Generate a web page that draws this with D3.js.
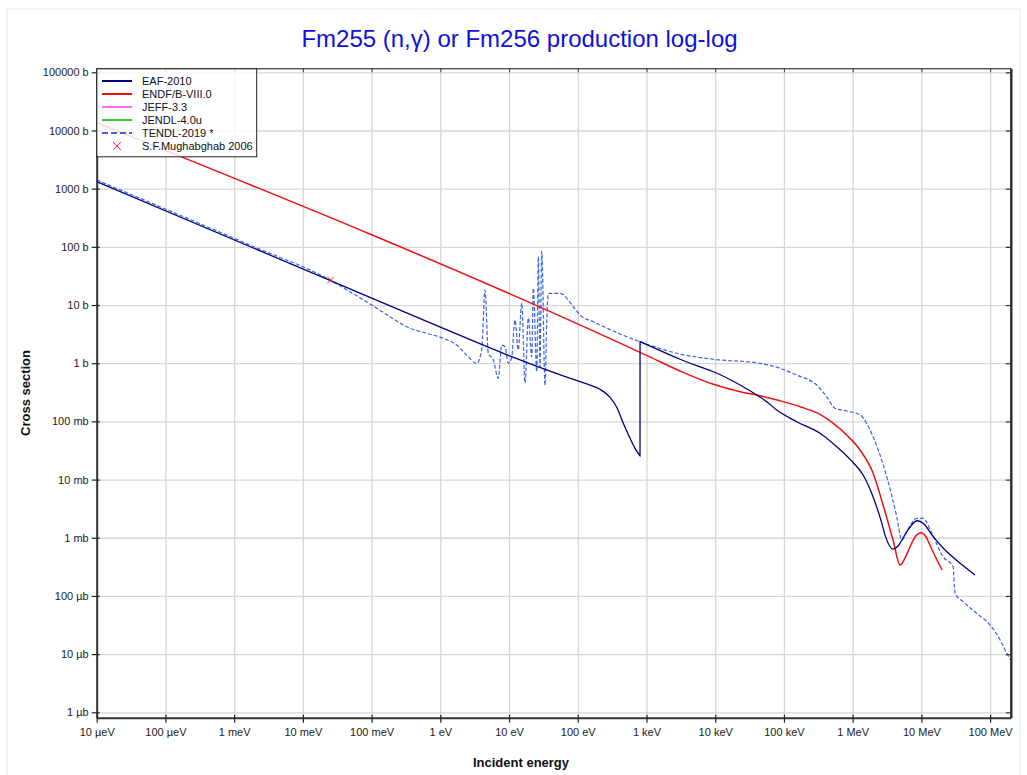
<!DOCTYPE html>
<html lang="en">
<head>
  <meta charset="UTF-8" />
  <title>Fm255 (n,γ) or Fm256 production log-log</title>
  <script src="https://d3js.org/d3.v7.min.js"></script>
  <style>
    body {
      margin: 0;
      background: white;
      font-family: Arial, "Liberation Sans", sans-serif;
    }
    .grid line { stroke: #d6d6d6; stroke-width: 1.3; }
    .grid path { display: none; }
    .tick text { font-size: 11px; fill: #222; }
  </style>
</head>
<body>
  <svg width="1027" height="775"></svg>
  <script>
    // Tick values and labels
    const xTicks = [1e-5, 1e-4, 1e-3, 1e-2, 1e-1, 1, 10, 100, 1e3, 1e4, 1e5, 1e6, 1e7, 1e8];
    const xTickLabels = ["10 µeV", "100 µeV", "1 meV", "10 meV", "100 meV", "1 eV", "10 eV",
                         "100 eV", "1 keV", "10 keV", "100 keV", "1 MeV", "10 MeV", "100 MeV"];
    const yTicks = [1e5, 1e4, 1e3, 100, 10, 1, 0.1, 0.01, 1e-3, 1e-4, 1e-5, 1e-6];
    const yTickLabels = ["100000 b", "10000 b", "1000 b", "100 b", "10 b", "1 b",
                         "100 mb", "10 mb", "1 mb", "100 µb", "10 µb", "1 µb"];

    // Series: [energy (eV), cross section (b)]
    const eaf2010 = [
      [1e-5, 1318], [0.0253, 26.2], [1, 4.17], [10, 1.35], [108, 0.481], [151, 0.422],
      [211, 0.356], [295, 0.259], [369, 0.175], [460, 0.0927], [576, 0.0512], [681, 0.0344],
      [790, 0.0262], [805, 0.0254], [806, 2.34], [880, 2.24], [3076, 1.17], [5875, 0.871],
      [9400, 0.714], [23000, 0.422],
      [42400, 0.273], [56200, 0.218], [78500, 0.157], [153000, 0.0988], [335000, 0.0624],
      [586000, 0.0367], [916000, 0.0223], [1.42e6, 0.01197], [1.98e6, 0.00507],
      [2.65e6, 0.00179], [2.96e6, 0.00111], [3.87e6, 6.4e-4], [4.58e6, 7.21e-4],
      [5.41e6, 9.9e-4], [6.84e6, 1.53e-3], [8.65e6, 1.96e-3], [10.9e6, 1.72e-3],
      [14.3e6, 1.11e-3], [20.7e6, 6.67e-4], [30.9e6, 4.31e-4], [60.4e6, 2.29e-4]
    ];
    const endfb80 = [
      [1e-5, 13660], [1000, 1.366], [3076, 0.735], [9400, 0.434], [23000, 0.324],
      [44900, 0.276], [87700, 0.226], [171000, 0.179], [335000, 0.132], [524000, 0.0927],
      [820000, 0.0583], [1.28e6, 0.0322], [1.98e6, 0.01297], [2.77e6, 3.66e-3],
      [3.87e6, 9.14e-4], [4.9e6, 3.4e-4], [5.78e6, 4.49e-4], [6.84e6, 7.02e-4],
      [8.09e6, 1.03e-3], [9.89e6, 1.22e-3], [11.7e6, 1.03e-3], [14.3e6, 6.15e-4], [20e6, 2.79e-4]
    ];
    const jeff33 = [];
    const jendl40u = [];
    const tendl2019 = [
      [1e-5, 1410], [1.7e-3, 107], [0.0248, 26.9], [0.0485, 16.9], [0.1005, 10.0],
      [0.185, 6.30], [0.324, 4.24], [0.634, 3.26], [1.106, 2.68], [1.73, 2.05], [2.42, 1.38],
      [3.39, 0.995], [4.00, 1.69], [4.47, 18.1], [4.99, 1.48], [5.90, 1.135], [6.98, 0.55],
      [7.82, 2.05], [8.75, 1.92], [9.77, 1.0], [10.9, 1.23], [12.2, 5.52], [13.6, 1.69],
      [15.3, 10.8], [17.1, 0.457], [19.1, 5.98], [21.4, 1.29], [22.6, 19.6], [25.3, 0.714],
      [26.7, 67.7], [28.2, 0.871], [29.9, 82.5], [33.4, 0.422], [35.3, 4.91], [37.3, 15.9],
      [55.2, 15.9], [86.1, 9.35], [108, 6.74], [168, 5.17], [805, 2.34], [3076, 1.44],
      [9400, 1.17], [44900, 0.996], [87700, 0.817], [153000, 0.627], [300000, 0.422],
      [420000, 0.265], [554000, 0.168], [820000, 0.151], [1.28e6, 0.129], [1.98e6, 0.0546],
      [3.13e6, 0.0112], [4.38e6, 2.30e-3], [5.18e6, 9.14e-4], [6.12e6, 1.27e-3],
      [8.55e6, 2.16e-3], [10.6e6, 2.16e-3], [14.2e6, 1.19e-3], [20.7e6, 4.72e-4],
      [28.9e6, 3.18e-4], [30.9e6, 1.11e-4], [40.4e6, 7.96e-5], [64e6, 5.02e-5],
      [100e6, 3.16e-5], [140e6, 1.75e-5], [175e6, 1.03e-5], [200e6, 7.9e-6]
    ];
    const mughabghab2006 = [[0.0253, 26.9]];

    const series = [
      { name: "EAF-2010", data: eaf2010, color: "#000080", width: 1.3, dash: null },
      { name: "ENDF/B-VIII.0", data: endfb80, color: "#f01010", width: 1.5, dash: null },
      { name: "JEFF-3.3", data: jeff33, color: "#ff66ff", width: 1.5, dash: null },
      { name: "JENDL-4.0u", data: jendl40u, color: "#33cc33", width: 1.5, dash: null },
      { name: "TENDL-2019 *", data: tendl2019, color: "#3a66e0", width: 1.2, dash: "4,2" }
    ];

    const svg = d3.select("svg");
    const pLeft = 96.7, pRight = 1010.8, pTop = 68.3, pBottom = 717.7;

    // faint outer frame
    svg.append("rect")
      .attr("x", 7).attr("y", 9).attr("width", 1013).attr("height", 780)
      .attr("fill", "none").attr("stroke", "#e8e8e8");

    const x = d3.scaleLog().domain([1e-5, 2e8]).range([pLeft, pRight]);
    const y = d3.scaleLog().domain([8.08e-7, 1.172e5]).range([pBottom, pTop]);

    // grid
    svg.append("g").attr("class", "grid")
      .attr("transform", `translate(0,${pBottom})`)
      .call(d3.axisBottom(x).tickValues(xTicks).tickSize(-(pBottom - pTop)).tickFormat(""));
    svg.append("g").attr("class", "grid")
      .attr("transform", `translate(${pLeft},0)`)
      .call(d3.axisLeft(y).tickValues(yTicks).tickSize(-(pRight - pLeft)).tickFormat(""));

    // curves
    svg.append("clipPath").attr("id", "clip")
      .append("rect").attr("x", pLeft).attr("y", pTop)
      .attr("width", pRight - pLeft).attr("height", pBottom - pTop);

    const line = d3.line().x(d => x(d[0])).y(d => y(d[1])).curve(d3.curveMonotoneX);
    const plot = svg.append("g").attr("clip-path", "url(#clip)");

    // TENDL first so the evaluated lines sit on top
    [series[4], series[2], series[3], series[1], series[0]].forEach(s => {
      if (!s.data.length) return;
      plot.append("path")
        .datum(s.data)
        .attr("fill", "none")
        .attr("stroke", s.color)
        .attr("stroke-width", s.width)
        .attr("stroke-dasharray", s.dash)
        .attr("d", line);
    });

    // experimental point
    const cross = d3.symbol().type(d3.symbolX).size(30);
    plot.selectAll("path.exp")
      .data(mughabghab2006)
      .enter().append("path")
      .attr("class", "exp")
      .attr("transform", d => `translate(${x(d[0])},${y(d[1])})`)
      .attr("d", cross)
      .attr("fill", "none")
      .attr("stroke", "#ff2020")
      .attr("stroke-width", 1);

    // axes: bottom and left with labels
    const xAxis = svg.append("g")
      .attr("transform", `translate(0,${pBottom})`)
      .call(d3.axisBottom(x).tickValues(xTicks).tickSizeInner(5).tickSizeOuter(0)
        .tickPadding(6).tickFormat((d, i) => xTickLabels[i]));
    const yAxis = svg.append("g")
      .attr("transform", `translate(${pLeft},0)`)
      .call(d3.axisLeft(y).tickValues(yTicks).tickSizeInner(5).tickSizeOuter(0)
        .tickPadding(3).tickFormat((d, i) => yTickLabels[i]));
    [xAxis, yAxis].forEach(g => {
      g.select(".domain").attr("stroke", "#333").attr("stroke-width", 2);
      g.selectAll(".tick line").attr("stroke", "#222").attr("stroke-width", 1.2);
      g.selectAll(".tick text").style("font-family", "Arial, 'Liberation Sans', sans-serif");
    });
    // small inside ticks on bottom and left
    svg.append("g").attr("transform", `translate(0,${pBottom})`)
      .call(d3.axisBottom(x).tickValues(xTicks).tickSize(-3).tickFormat(""))
      .call(g => g.select(".domain").remove())
      .selectAll("line").attr("stroke", "#222").attr("stroke-width", 1.2);
    svg.append("g").attr("transform", `translate(${pLeft},0)`)
      .call(d3.axisLeft(y).tickValues(yTicks).tickSize(-3).tickFormat(""))
      .call(g => g.select(".domain").remove())
      .selectAll("line").attr("stroke", "#222").attr("stroke-width", 1.2);

    // top and right frame with inward ticks
    const topAxis = svg.append("g").attr("transform", `translate(0,${pTop})`)
      .call(d3.axisTop(x).tickValues(xTicks).tickSizeInner(-4).tickSizeOuter(0).tickFormat(""));
    topAxis.select(".domain").attr("stroke", "#111").attr("stroke-width", 1);
    topAxis.selectAll("line").attr("stroke", "#444");
    const rightAxis = svg.append("g").attr("transform", `translate(${pRight},0)`)
      .call(d3.axisRight(y).tickValues(yTicks).tickSizeInner(-5).tickSizeOuter(0).tickFormat(""));
    rightAxis.select(".domain").attr("stroke", "#333").attr("stroke-width", 2.5);
    rightAxis.selectAll("line").attr("stroke", "#333").attr("stroke-width", 1.2);

    // title and axis titles
    svg.append("text")
      .attr("x", 519.5).attr("y", 47)
      .attr("text-anchor", "middle")
      .style("font-size", "24px")
      .attr("fill", "#1010d8")
      .text("Fm255 (n,γ) or Fm256 production log-log");
    svg.append("text")
      .attr("x", 521).attr("y", 767)
      .attr("text-anchor", "middle")
      .style("font-size", "13px").style("font-weight", "bold")
      .attr("fill", "#111")
      .text("Incident energy");
    svg.append("text")
      .attr("transform", `translate(30,${(pTop + pBottom) / 2}) rotate(-90)`)
      .attr("text-anchor", "middle")
      .style("font-size", "13px").style("font-weight", "bold")
      .attr("fill", "#111")
      .text("Cross section");

    // legend
    const legend = svg.append("g");
    const rowY = i => 81 + i * 13;
    legend.append("rect")
      .attr("x", pLeft).attr("y", pTop + 0.5)
      .attr("width", 160).attr("height", 88)
      .attr("fill", "white").attr("fill-opacity", 0.82)
      .attr("stroke", "#222").attr("stroke-width", 1);
    series.forEach((s, i) => {
      legend.append("line")
        .attr("x1", 102).attr("x2", 132)
        .attr("y1", rowY(i)).attr("y2", rowY(i))
        .attr("stroke", s.color).attr("stroke-width", 2)
        .attr("stroke-dasharray", s.dash ? "6,3" : null);
      legend.append("text")
        .attr("x", 142).attr("y", rowY(i) + 4)
        .style("font-size", "11px").attr("fill", "#111")
        .text(s.name);
    });
    legend.append("path")
      .attr("transform", `translate(117,${rowY(5)})`)
      .attr("d", d3.symbol().type(d3.symbolX).size(40))
      .attr("fill", "none").attr("stroke", "#ff2020").attr("stroke-width", 1);
    legend.append("text")
      .attr("x", 142).attr("y", rowY(5) + 4)
      .style("font-size", "11px").attr("fill", "#111")
      .text("S.F.Mughabghab 2006");
  </script>
</body>
</html>
